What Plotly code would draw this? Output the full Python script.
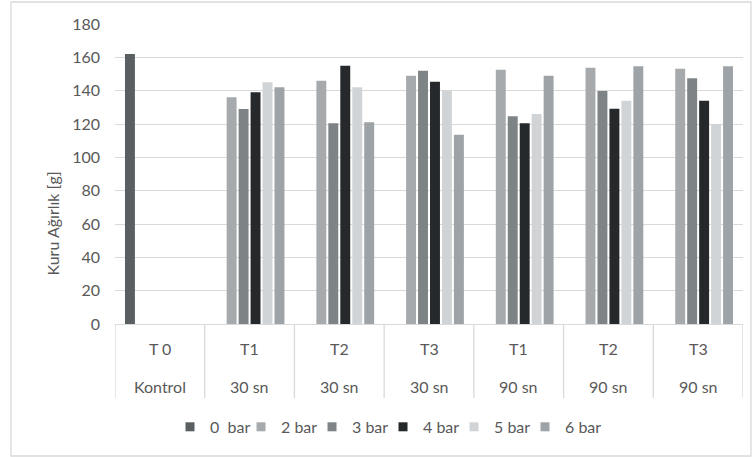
import plotly.graph_objects as go

# Grouped categories: treatment (top row) and duration (bottom row)
treatments = ["T 0", "T1", "T2", "T3", "T1", "T2", "T3"]
durations = ["Kontrol", "30 sn", "30 sn", "30 sn", "90 sn", "90 sn", "90 sn"]
category_ids = [f"{t} {d}" for t, d in zip(treatments, durations)]

series_names = ["0  bar", "2 bar", "3 bar", "4 bar", "5 bar", "6 bar"]
bar_0 = [162, None, None, None, None, None, None]
bar_2 = [None, 136, 146, 149, 152.6, 153.8, 153.2]
bar_3 = [None, 129, 120.5, 152, 124.6, 139.8, 147.4]
bar_4 = [None, 139, 155, 145.4, 120.4, 129.2, 134]
bar_5 = [None, 145, 142, 140, 126, 134, 120]
bar_6 = [None, 142, 121, 113.6, 149, 154.6, 154.6]
series_values = [bar_0, bar_2, bar_3, bar_4, bar_5, bar_6]
series_colors = ["#5a5f62", "#a6aaad", "#7e8386", "#25292b", "#d1d4d6", "#9da3a6"]

y_ticks = [0, 20, 40, 60, 80, 100, 120, 140, 160, 180]

FONT = "Lato"
TEXT_COLOR = "#595959"
LINE_COLOR = "#d9d9d9"

fig = go.Figure()

for name, vals, col in zip(series_names, series_values, series_colors):
    fig.add_trace(go.Bar(
        x=category_ids, y=vals, name=name,
        marker=dict(color=col, line=dict(width=0)),
        showlegend=False,
    ))

# Legend entries with small square swatches
for name, col in zip(series_names, series_colors):
    fig.add_trace(go.Scatter(
        x=[None], y=[None], mode="markers", name=name,
        marker=dict(symbol="square", size=9, color=col),
        showlegend=True,
    ))
# Blank trailing entry so the last label has room in the fixed-width row
fig.add_trace(go.Scatter(
    x=[None], y=[None], mode="markers", name=" ",
    marker=dict(symbol="square", size=9, color="rgba(0,0,0,0)"),
    showlegend=True, hoverinfo="skip",
))

# Two-row category labels under the axis
annotations = []
for cid, t, d in zip(category_ids, treatments, durations):
    annotations.append(dict(x=cid, y=-0.083, xref="x", yref="paper", text=t,
                            showarrow=False, yanchor="middle",
                            font=dict(family=FONT, size=16, color=TEXT_COLOR)))
    annotations.append(dict(x=cid, y=-0.207, xref="x", yref="paper", text=d,
                            showarrow=False, yanchor="middle",
                            font=dict(family=FONT, size=16, color=TEXT_COLOR)))

annotations.append(dict(x=-0.1003, y=0.335, xref="paper", yref="paper",
                        text="Kuru Ağırlık [g]", textangle=-90, showarrow=False,
                        xanchor="center", yanchor="middle",
                        font=dict(family=FONT, size=16, color=TEXT_COLOR)))

# Vertical separators between categories in the label area
shapes = []
for i in range(len(category_ids) + 1):
    shapes.append(dict(type="line", xref="x", yref="paper",
                       x0=i - 0.5, x1=i - 0.5, y0=0, y1=-0.247,
                       line=dict(color=LINE_COLOR, width=1.3)))

# Chart border
shapes.append(dict(type="rect", xref="paper", yref="paper",
                   x0=-0.1656, x1=1.0127, y0=-0.44, y1=1.0733,
                   line=dict(color="#d9d9d9", width=1.3), fillcolor="rgba(0,0,0,0)",
                   layer="below"))

fig.update_layout(
    width=753, height=457,
    margin=dict(l=115, r=10, t=24, b=133),
    paper_bgcolor="white", plot_bgcolor="white",
    barmode="group", bargap=0.2, bargroupgap=0.17,
    font=dict(family=FONT, size=16, color=TEXT_COLOR),
    showlegend=True,
    legend=dict(orientation="h", x=0.0876, xanchor="left", y=-0.343, yanchor="middle",
                font=dict(family=FONT, size=16, color=TEXT_COLOR),
                entrywidth=26, itemsizing="trace", traceorder="normal",
                bgcolor="rgba(0,0,0,0)"),
    annotations=annotations,
    shapes=shapes,
)

fig.update_xaxes(type="category", categoryorder="array", categoryarray=category_ids,
                 range=[-0.5, len(category_ids) - 0.5],
                 showticklabels=False, ticks="", showgrid=False,
                 showline=True, linecolor=LINE_COLOR, linewidth=1.3, zeroline=False)
fig.update_yaxes(range=[0, 180], tickvals=y_ticks, ticks="", showline=False,
                 showgrid=True, gridcolor=LINE_COLOR, gridwidth=1.3, zeroline=False,
                 ticklabelstandoff=14,
                 tickfont=dict(family=FONT, size=16, color=TEXT_COLOR))

fig.write_html("out.html")
